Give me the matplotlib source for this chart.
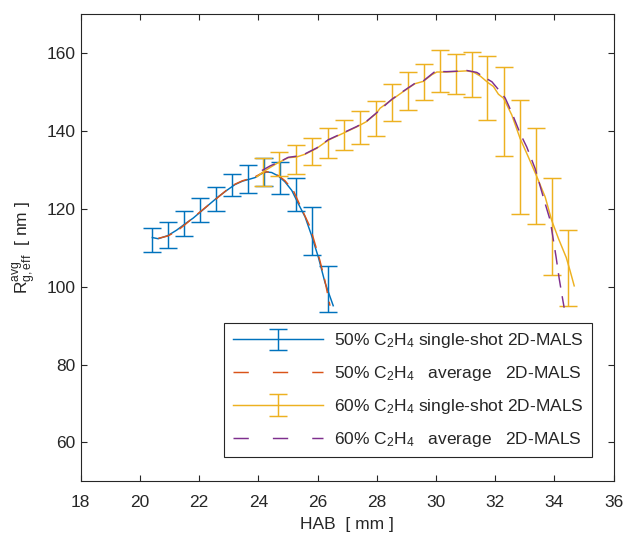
import matplotlib
matplotlib.use("Agg")
import matplotlib.pyplot as plt
from matplotlib.lines import Line2D
from matplotlib.container import ErrorbarContainer
from matplotlib.legend_handler import HandlerErrorbar

plt.rcParams['font.family'] = ['Liberation Sans', 'DejaVu Sans']
plt.rcParams['mathtext.fontset'] = 'custom'
plt.rcParams['mathtext.rm'] = 'Liberation Sans'
plt.rcParams['mathtext.it'] = 'Liberation Sans'
plt.rcParams['mathtext.bf'] = 'Liberation Sans:bold'

# ---- 50% C2H4, single-shot 2D-MALS: error bars ----
hab50_bar = [20.40, 20.94, 21.48, 22.03, 22.57, 23.10, 23.66, 24.19, 24.73, 25.27, 25.80, 26.36]
r50_bar = [112.0, 113.35, 116.25, 119.6, 122.55, 126.05, 127.6, 129.35, 127.95, 123.7, 114.3, 99.4]
r50_err = [3.0, 3.35, 3.15, 3.1, 3.05, 2.85, 3.6, 3.55, 4.05, 4.3, 6.15, 6.0]

# ---- 50% C2H4, single-shot 2D-MALS: curve ----
hab50_line = [20.42, 20.62, 20.94, 21.24, 21.52, 21.80, 22.08, 22.37, 22.65, 22.93, 23.21, 23.47,
              23.66, 23.89, 24.11, 24.28, 24.45, 24.68, 24.90, 25.13, 25.35, 25.58, 25.80, 26.03,
              26.25, 26.53]
r50_line = [112.6, 112.3, 113.1, 114.5, 116.1, 117.6, 119.4, 121.3, 123.1, 124.7, 126.2, 127.1,
            127.5, 128.0, 129.0, 129.45, 129.3, 128.4, 126.9, 124.7, 121.3, 117.9, 113.1, 107.5,
            101.1, 95.1]

# ---- 50% C2H4, average 2D-MALS ----
hab50_avg = [20.62, 20.94, 21.24, 21.52, 21.80, 22.08, 22.37, 22.65, 22.93, 23.21, 23.47, 23.66,
             23.89, 24.11, 24.28, 24.45, 24.68, 24.90, 25.18, 25.45, 25.75, 26.08, 26.25, 26.42]
r50_avg = [112.4, 113.0, 114.2, 115.9, 117.7, 119.5, 121.3, 123.0, 124.8, 126.3, 127.2, 127.6,
           128.2, 129.1, 129.5, 129.3, 128.5, 127.2, 124.7, 120.2, 115.3, 106.7, 101.5, 95.1]

# ---- 60% C2H4, single-shot 2D-MALS: error bars ----
hab60_bar = [24.17, 24.71, 25.26, 25.80, 26.34, 26.89, 27.43, 27.97, 28.51, 29.05, 29.59, 30.13,
             30.67, 31.21, 31.74, 32.29, 32.83, 33.37, 33.91, 34.45]
r60_bar = [129.35, 131.5, 132.6, 134.75, 136.9, 138.9, 140.75, 143.2, 147.25, 150.25, 152.5, 155.35,
           154.55, 154.5, 150.95, 144.9, 133.3, 128.35, 115.5, 104.75]
r60_err = [3.55, 3.1, 3.7, 3.45, 3.8, 3.9, 4.25, 4.5, 4.75, 4.85, 4.7, 5.35,
           5.05, 5.8, 8.25, 11.4, 14.7, 12.35, 12.4, 9.75]

# ---- 60% C2H4, single-shot 2D-MALS: curve ----
hab60_line = [23.95, 24.17, 24.40, 24.62, 25.01, 25.30, 25.58, 25.97, 26.36, 26.87, 27.32, 27.66,
              27.99, 28.11, 28.51, 28.90, 29.29, 29.57, 29.86, 30.03, 30.36, 30.70, 31.04, 31.26,
              31.49, 31.77, 31.94, 32.11, 32.28, 32.56, 32.84, 33.12, 33.41, 33.69, 33.91, 34.14,
              34.40, 34.53, 34.67]
r60_line = [128.2, 129.5, 130.6, 131.6, 133.1, 133.3, 134.0, 135.5, 137.6, 139.4, 141.0, 142.4,
            144.5, 145.8, 148.0, 150.1, 152.1, 152.7, 154.4, 155.1, 155.1, 155.25, 155.4, 155.1,
            154.1, 152.3, 151.4, 149.4, 148.4, 144.1, 138.1, 133.3, 128.2, 123.0, 117.0, 112.3,
            107.5, 104.1, 100.2]

# ---- 60% C2H4, average 2D-MALS ----
hab60_avg = [24.12, 24.40, 24.73, 25.01, 25.30, 25.58, 25.97, 26.36, 26.87, 27.32, 27.66, 27.99,
             28.51, 28.90, 29.29, 29.57, 29.97, 30.36, 30.70, 31.04, 31.38, 31.60, 31.89, 32.11,
             32.34, 32.56, 32.84, 33.07, 33.35, 33.69, 33.86, 34.06, 34.16, 34.25, 34.33]
r60_avg = [129.8, 131.0, 132.1, 133.2, 133.5, 134.1, 135.6, 137.7, 139.5, 141.1, 142.5, 144.6,
           148.1, 150.2, 152.2, 152.8, 155.25, 155.2, 155.3, 155.5, 155.0, 153.9, 152.6, 150.6,
           148.4, 144.7, 139.4, 135.8, 130.3, 121.3, 117.0, 107.5, 102.2, 98.1, 94.6]

labels = [r'50% C$_2$H$_4$ single-shot 2D-MALS',
          r'50% C$_2$H$_4$   average   2D-MALS',
          r'60% C$_2$H$_4$ single-shot 2D-MALS',
          r'60% C$_2$H$_4$   average   2D-MALS']

c_blue = '#0072BD'
c_red = '#D95319'
c_yel = '#EDB120'
c_pur = '#7E2F8E'
axcol = '#262626'

FS = 12.5
LW = 1.05
CAP = 6.8
DASH = (10, 6)

fig = plt.figure(figsize=(6.27, 5.34), dpi=100)
ax = fig.add_axes([0.1287, 0.0985, 0.8499, 0.8753])

l50, = ax.plot(hab50_line, r50_line, color=c_blue, lw=LW)
e50 = ax.errorbar(hab50_bar, r50_bar, yerr=r50_err, fmt='none', ecolor=c_blue,
                  elinewidth=LW, capsize=CAP, capthick=LW)
a50, = ax.plot(hab50_avg, r50_avg, color=c_red, lw=LW, dashes=DASH)
l60, = ax.plot(hab60_line, r60_line, color=c_yel, lw=LW)
e60 = ax.errorbar(hab60_bar, r60_bar, yerr=r60_err, fmt='none', ecolor=c_yel,
                  elinewidth=LW, capsize=CAP, capthick=LW)
a60, = ax.plot(hab60_avg, r60_avg, color=c_pur, lw=LW, dashes=DASH)

ax.set_xlim(18, 36)
ax.set_ylim(50, 170)
ax.set_xticks(range(18, 37, 2))
ax.set_yticks(range(60, 161, 20))

for s in ax.spines.values():
    s.set_color(axcol)
    s.set_linewidth(0.8)
ax.tick_params(direction='in', length=4, width=0.8, colors=axcol, labelsize=FS,
               top=True, right=True)
ax.tick_params(axis='x', pad=9.5)
ax.tick_params(axis='y', pad=4)

ax.set_xlabel('HAB  [ mm ]', fontsize=FS, color=axcol, labelpad=5)
ax.set_ylabel(r'R$^{\rm avg}_{\rm g,eff}$  [ nm ]', fontsize=FS, color=axcol, labelpad=5)

# legend proxies: dashed entries drawn with a wider gap
p50 = Line2D([], [], color=c_red, lw=LW, dashes=(10.5, 16.5))
p60 = Line2D([], [], color=c_pur, lw=LW, dashes=(10.5, 16.5))
leg = ax.legend([(l50, e50), p50, (l60, e60), p60], labels,
                handler_map={ErrorbarContainer: HandlerErrorbar(xerr_size=0.5, yerr_size=0.62)},
                loc='lower right', bbox_to_anchor=(0.9595, 0.0516), borderaxespad=0,
                fontsize=FS, handlelength=5.2, handletextpad=0.6, labelspacing=0.79,
                borderpad=0.5, fancybox=False, framealpha=1, edgecolor=axcol)
leg.get_frame().set_linewidth(0.8)
for t in leg.get_texts():
    t.set_color(axcol)

fig.savefig('out.png', dpi=100)
